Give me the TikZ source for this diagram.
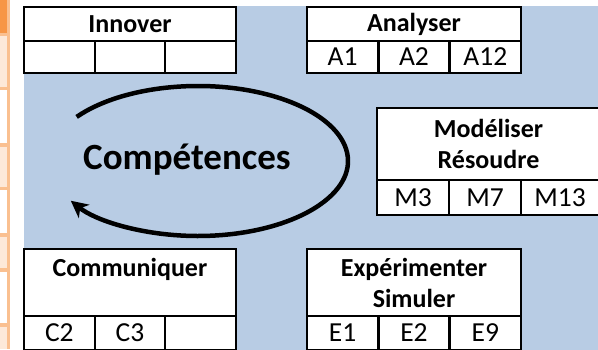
\documentclass[tikz,border=0pt]{standalone}
\usepackage{fontspec}
\setmainfont{Carlito}
\usetikzlibrary{arrows.meta}
\definecolor{fondbleu}{HTML}{B8CCE4}
\definecolor{orangefonce}{HTML}{F79646}
\definecolor{orangeclair}{HTML}{FDE9D9}
\definecolor{orangebord}{HTML}{FAC090}
\tikzset{
  titre/.style={draw, line width=1.8pt, fill=white, inner sep=0pt, align=center,
    font=\fontsize{26}{31}\selectfont\bfseries},
  cellule/.style={draw, line width=1.8pt, fill=white, inner sep=0pt,
    minimum width=70.67pt, font=\fontsize{27.5}{30}\selectfont},
  fleche/.style={line width=4.5pt, -{Stealth[length=17pt, width=17pt, inset=5pt]}},
}
\begin{document}
\begin{tikzpicture}[x=1pt, y=-1pt]
    \clip (0,0) rectangle (598,349); % cadre
    \fill[fondbleu] (24,6) rectangle (600,350); % fond bleu
    % bande orange a gauche
    \fill[orangebord] (0,0) rectangle (10,349);
    \fill[orangefonce] (0,0) rectangle (7,33);
    \foreach \a/\b/\c in {36/87/orangeclair, 90/143/white, 147/187/orangeclair, 190/233/white,
        237/268/orangeclair, 272/323/white, 327/349/orangeclair}
        \fill[\c] (0,\a) rectangle (7,\b);
    % Innover
    \node[titre, minimum width=212pt, minimum height=34pt] (innover) at (130,24) {Innover};
    \foreach \i in {1,2,3}
        \node[cellule, minimum height=32pt] (inn\i) at ({24+70.67*(\i-0.5)},57) {};
    % Analyser
    \node[titre, minimum width=214pt, minimum height=34pt] (analyser) at (414,24) {Analyser};
    \foreach \t [count=\i] in {A1,A2,A12}
        \node[cellule, minimum height=32pt] (ana\i) at ({307+71.33*(\i-0.5)},57) {\t};
    % Modeliser / Resoudre
    \node[titre, minimum width=223pt, minimum height=72pt] (modeliser) at (488.5,144) {Modéliser\\Résoudre};
    \node[cellule, minimum width=72pt, minimum height=35pt] (mod1) at (413,197.5) {M3};
    \node[cellule, minimum width=72pt, minimum height=35pt] (mod2) at (485,197.5) {M7};
    \node[cellule, minimum width=78pt, minimum height=35pt] (mod3) at (560,197.5) {M13};
    % Communiquer
    \node[titre, minimum width=212pt, minimum height=67pt] (communiquer) at (130,282.5) {Communiquer\\\mbox{}};
    \foreach \t [count=\i] in {C2,C3,{}}
        \node[cellule, minimum height=34pt] (com\i) at ({24+70.67*(\i-0.5)},333) {\t};
    % Experimenter / Simuler
    \node[titre, minimum width=214pt, minimum height=67pt] (experimenter) at (414,282.5) {Expérimenter\\Simuler};
    \foreach \t [count=\i] in {E1,E2,E9}
        \node[cellule, minimum height=34pt] (exp\i) at ({307+71.33*(\i-0.5)},333) {\t};
    % Competences et fleche
    \node[font=\fontsize{37}{44}\selectfont\bfseries] (competences) at (187,160) {Compétences};
    \coordinate (centre) at (198,161); % centre de l'ellipse
    \draw[fleche] ([shift={(-144:150 and 75)}]centre) arc[start angle=-144, end angle=148, x radius=150, y radius=75];
\end{tikzpicture}
\end{document}
